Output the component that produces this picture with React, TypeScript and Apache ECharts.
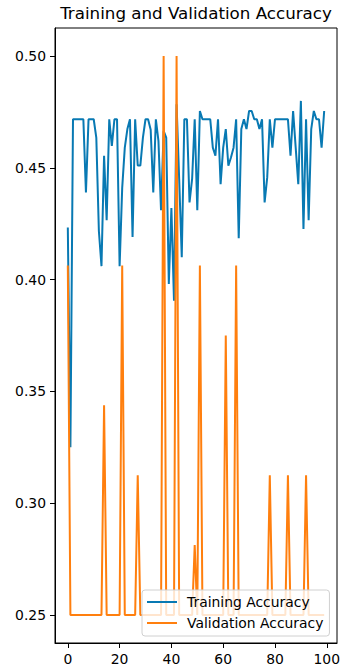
import React, { useEffect, useRef } from "react";
import * as echarts from "echarts";

const titleText = "Training and Validation Accuracy";
const seriesNames = ["Training Accuracy", "Validation Accuracy"];

const trainAcc = [
  0.4233, 0.325, 0.4717, 0.4717, 0.4717, 0.4717, 0.4717, 0.439, 0.4717, 0.4717,
  0.4717, 0.4635, 0.4216, 0.406, 0.4554, 0.4266, 0.4717, 0.4598, 0.4717, 0.4717,
  0.406, 0.441, 0.459, 0.4673, 0.4717, 0.419, 0.4717, 0.451, 0.451, 0.4635,
  0.4717, 0.4717, 0.467, 0.439, 0.4717, 0.462, 0.431, 0.4665, 0.4635, 0.398,
  0.432, 0.3906, 0.4784, 0.445, 0.41, 0.4717, 0.4717, 0.4345, 0.445, 0.4717,
  0.431, 0.4754, 0.4717, 0.4717, 0.4717, 0.4717, 0.459, 0.4554, 0.4717, 0.4427,
  0.459, 0.4673, 0.4509, 0.4546, 0.459, 0.4717, 0.4185, 0.4673, 0.4717, 0.4673,
  0.4754, 0.4754, 0.4717, 0.4717, 0.4673, 0.4717, 0.4345, 0.4457, 0.4717, 0.459,
  0.4717, 0.4717, 0.4717, 0.4717, 0.4717, 0.4717, 0.4554, 0.4754, 0.459, 0.4427,
  0.4799, 0.4226, 0.4717, 0.4266, 0.4673, 0.4754, 0.4717, 0.4717, 0.459, 0.4754,
];

const valAcc = [
  0.40625, 0.25, 0.25, 0.25, 0.25, 0.25, 0.25, 0.25, 0.25, 0.25,
  0.25, 0.25, 0.25, 0.25, 0.34375, 0.25, 0.25, 0.25, 0.25, 0.25,
  0.25, 0.40625, 0.25, 0.25, 0.25, 0.25, 0.25, 0.3125, 0.25, 0.25,
  0.25, 0.25, 0.25, 0.25, 0.25, 0.25, 0.25, 0.5, 0.25, 0.25,
  0.25, 0.25, 0.5, 0.25, 0.25, 0.25, 0.25, 0.25, 0.25, 0.28125,
  0.25, 0.40625, 0.25, 0.25, 0.25, 0.25, 0.25, 0.25, 0.25, 0.25,
  0.25, 0.375, 0.25, 0.25, 0.25, 0.40625, 0.25, 0.25, 0.25, 0.25,
  0.25, 0.25, 0.25, 0.25, 0.25, 0.25, 0.25, 0.25, 0.3125, 0.25,
  0.25, 0.25, 0.25, 0.25, 0.25, 0.3125, 0.25, 0.25, 0.25, 0.25,
  0.25, 0.25, 0.3125, 0.25, 0.25, 0.25, 0.25, 0.25, 0.25, 0.25,
];

const xTicks = [0, 20, 40, 60, 80, 100];
const yTicks = [0.25, 0.3, 0.35, 0.4, 0.45, 0.5];

const FONT = "DejaVu Sans";
const BLUE = "#0879b3";
const ORANGE = "#ff7f0e";

export default function App() {
  const ref = useRef<HTMLDivElement>(null);
  useEffect(() => {
    if (!ref.current) return;
    const chart = echarts.init(ref.current, undefined, { renderer: "svg" });
    const trainData = trainAcc.map((v, i) => [i, v]);
    const valData = valAcc.map((v, i) => [i, v]);
    chart.setOption({
      animation: false,
      backgroundColor: "#ffffff",
      title: {
        text: titleText,
        left: 196,
        top: 4,
        padding: 0,
        textAlign: "center",
        textStyle: {
          fontFamily: FONT,
          fontSize: 16.7,
          fontWeight: "normal",
          color: "#000",
        },
      },
      grid: {
        left: 55,
        right: 25,
        top: 28,
        bottom: 25,
        show: true,
        borderColor: "#000",
        borderWidth: 1,
        backgroundColor: "transparent",
      },
      xAxis: {
        type: "value",
        min: -4.95,
        max: 103.95,
        splitLine: { show: false },
        axisLine: { show: true, onZero: false, lineStyle: { color: "#000", width: 1 } },
        axisTick: {
          show: true,
          customValues: xTicks,
          length: 5,
          lineStyle: { color: "#000", width: 1 },
        },
        axisLabel: {
          customValues: xTicks,
          margin: 9,
          fontFamily: FONT,
          fontSize: 13.9,
          color: "#000",
          formatter: (v: number) => String(v),
        },
      },
      yAxis: {
        type: "value",
        min: 0.2375,
        max: 0.5125,
        splitLine: { show: false },
        axisLine: { show: true, onZero: false, lineStyle: { color: "#000", width: 1 } },
        axisTick: {
          show: true,
          customValues: yTicks,
          length: 5,
          lineStyle: { color: "#000", width: 1 },
        },
        axisLabel: {
          customValues: yTicks,
          margin: 9,
          fontFamily: FONT,
          fontSize: 13.9,
          color: "#000",
          formatter: (v: number) => v.toFixed(2),
        },
      },
      legend: {
        orient: "vertical",
        left: 142,
        top: 590,
        padding: [4, 6, 5, 5],
        itemGap: 5,
        itemWidth: 30,
        itemHeight: 2,
        icon: "rect",
        backgroundColor: "rgba(255,255,255,0.8)",
        borderColor: "#d0d0d0",
        borderWidth: 1,
        borderRadius: 3,
        textStyle: {
          fontFamily: FONT,
          fontSize: 13.9,
          color: "#000",
          lineHeight: 16,
          padding: [0, 0, 0, 5],
        },
        data: seriesNames,
      },
      series: [
        {
          name: seriesNames[0],
          type: "line",
          data: trainData,
          showSymbol: false,
          symbol: "none",
          lineStyle: { color: BLUE, width: 2 },
          itemStyle: { color: BLUE },
        },
        {
          name: seriesNames[1],
          type: "line",
          data: valData,
          showSymbol: false,
          symbol: "none",
          lineStyle: { color: ORANGE, width: 2 },
          itemStyle: { color: ORANGE },
        },
      ],
    });
    return () => chart.dispose();
  }, []);
  return (
    <div
      ref={ref}
      style={{ position: "fixed", left: 0, top: 0, width: 362, height: 668 }}
    />
  );
}
